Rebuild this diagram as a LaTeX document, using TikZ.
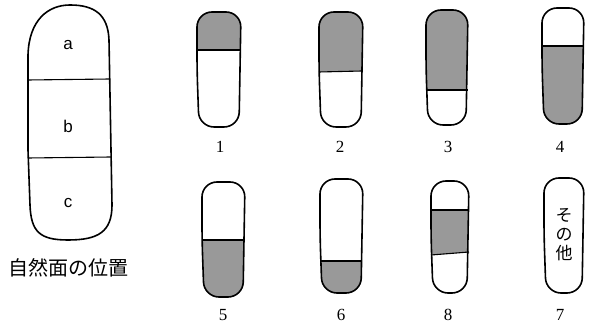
\documentclass[tikz,border=0pt]{standalone}
\usepackage{fontspec}
\setmainfont{Liberation Serif}
\newfontfamily\jpfont{Noto Sans CJK JP}
\newfontfamily\lettfont{Liberation Sans}
\newcommand\cappath[4]{(#1,{(#3+#4)/2}) -- (#1,#3) -- (#2,#3) -- ({#2-2},#4) -- ({#1+2},#4) -- cycle}
\newcommand\capsule[8]{% xl xr yt yb ; fill band: left-top y, right-top y, right-bottom y, left-bottom y
  \begin{scope}
    \clip[rounded corners=15pt] \cappath{#1}{#2}{#3}{#4};
    \fill[shade] ({#1-5},#5) -- ({#2+5},#6) -- ({#2+5},#7) -- ({#1-5},#8) -- cycle;
  \end{scope}
  \draw[outl, rounded corners=15pt] \cappath{#1}{#2}{#3}{#4};
}
\tikzset{
  outl/.style={line width=1.6pt, black},
  divl/.style={line width=1.1pt, black},
  shade/.style={fill=black!40},
  num/.style={font=\fontsize{17}{17}\selectfont, inner sep=0pt},
  lett/.style={font=\lettfont\fontsize{17}{17}\selectfont, inner sep=0pt},
}
\begin{document}
\begin{tikzpicture}[x=1pt,y=-1pt]
\useasboundingbox (0,0) rectangle (590,328);
% big shape
\draw[outl] (28,150) -- (28,55) .. controls (29,20) and (48,5) .. (70,5)
  .. controls (95,5) and (108,15) .. (109,40) -- (112,205)
  .. controls (112,232) and (98,240) .. (68,240)
  .. controls (40,240) and (31,232) .. (30,205) -- cycle;
\draw[divl] (28,80) -- (110,79);
\draw[divl] (28,158) -- (111,157);
\node[lett] (la) at (68,45) {a};
\node[lett] (lb) at (68,126) {b};
\node[lett] (lc) at (68,203) {c};
\node[font=\jpfont\fontsize{20}{20}\selectfont, inner sep=0pt] (cap) at (69,268) {自然面の位置};
% capsules
\capsule{197}{241}{12}{127}{0}{0}{50}{50}
\draw[divl] (197,50) -- (241,50);
\capsule{319}{363}{12}{127}{0}{0}{71}{72}
\draw[divl] (319,72) -- (362,71);
\capsule{426}{468}{10}{125}{0}{0}{90}{90}
\draw[divl] (426,90) -- (468,90);
\capsule{542}{584}{8}{124}{46}{46}{130}{130}
\draw[divl] (542,46) -- (584,46);
\capsule{202}{245}{182}{297}{240}{240}{300}{300}
\draw[divl] (202,240) -- (245,240);
\capsule{320}{363}{179}{293}{261}{261}{300}{300}
\draw[divl] (320,261) -- (362,261);
\capsule{431}{469}{181}{293}{210}{210}{252}{255}
\draw[divl] (431,210) -- (469,210);
\draw[divl] (431,255) -- (469,252);
\capsule{544}{584}{178}{293}{0}{0}{0}{0}
\node[font=\jpfont\fontsize{17}{19}\selectfont, inner sep=0pt, align=center] (other) at (564,235) {そ\\の\\他};
% labels
\node[num] (n1) at (220,147) {1};
\node[num] (n2) at (340,147) {2};
\node[num] (n3) at (448,147) {3};
\node[num] (n4) at (560,147) {4};
\node[num] (n5) at (223,315) {5};
\node[num] (n6) at (341,315) {6};
\node[num] (n8) at (448,315) {8};
\node[num] (n7) at (560,315) {7};
\end{tikzpicture}
\end{document}
